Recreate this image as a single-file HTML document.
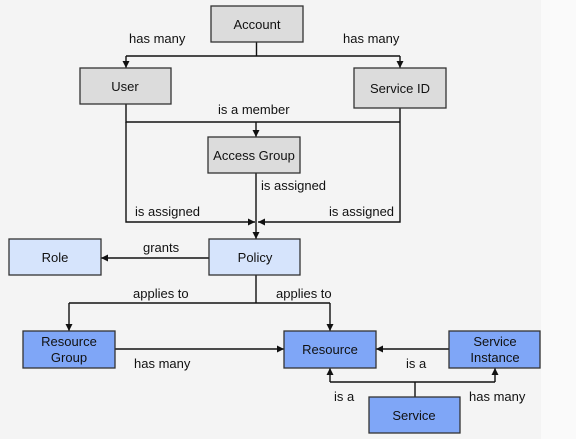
<!DOCTYPE html>
<html><head><style>
body{margin:0;width:576px;height:439px;background:#f4f4f4;overflow:hidden}
svg{display:block}
text{font-family:"Liberation Sans",Arial,sans-serif;font-size:13px;fill:#111}
.b{stroke:#333;stroke-width:1.3}
.l{stroke:#111;stroke-width:1.4;fill:none}
</style></head><body>
<svg width="576" height="439" viewBox="0 0 576 439">
<defs><marker id="a" markerWidth="8" markerHeight="8" refX="7" refY="4" orient="auto" markerUnits="userSpaceOnUse"><path d="M0,0.5 L7,4 L0,7.5z" fill="#111"/></marker></defs>
<rect x="541" y="0" width="35" height="439" fill="#fafafa"/>
<!-- lines -->
<path class="l" d="M256.5,42 V56 M126,56 H400"/>
<path class="l" d="M126,56 V68" marker-end="url(#a)"/>
<path class="l" d="M400,56 V68" marker-end="url(#a)"/>
<path class="l" d="M126,104 V122 H400 M400,108 V122"/>
<path class="l" d="M256,122 V137" marker-end="url(#a)"/>
<path class="l" d="M126,122 V222 H255" marker-end="url(#a)"/>
<path class="l" d="M400,122 V222 H258" marker-end="url(#a)"/>
<path class="l" d="M256,173 V239" marker-end="url(#a)"/>
<path class="l" d="M209,258 H101" marker-end="url(#a)"/>
<path class="l" d="M256,275 V303 M69,303 H330"/>
<path class="l" d="M69,303 V331" marker-end="url(#a)"/>
<path class="l" d="M330,303 V331" marker-end="url(#a)"/>
<path class="l" d="M115,349 H284" marker-end="url(#a)"/>
<path class="l" d="M449,349 H376" marker-end="url(#a)"/>
<path class="l" d="M415,397 V382 M330,382 H495"/>
<path class="l" d="M330,382 V368" marker-end="url(#a)"/>
<path class="l" d="M495,382 V368" marker-end="url(#a)"/>
<!-- boxes -->
<g class="b" fill="#dcdcdc">
<rect x="211" y="6" width="92" height="36"/>
<rect x="80" y="68" width="91" height="36"/>
<rect x="354" y="68" width="92" height="40"/>
<rect x="208" y="137" width="92" height="36"/>
</g>
<g class="b" fill="#d6e4fc">
<rect x="209" y="239" width="91" height="36"/>
<rect x="9" y="239" width="92" height="36"/>
</g>
<g class="b" fill="#7fa6f7">
<rect x="23" y="331" width="92" height="37"/>
<rect x="284" y="331" width="92" height="37"/>
<rect x="449" y="331" width="91" height="37"/>
<rect x="369" y="397" width="91" height="36"/>
</g>
<g text-anchor="middle">
<text x="257" y="29">Account</text>
<text x="125" y="91">User</text>
<text x="400" y="93">Service ID</text>
<text x="254" y="160">Access Group</text>
<text x="255" y="262">Policy</text>
<text x="55" y="262">Role</text>
<text x="69" y="346">Resource</text>
<text x="69" y="362">Group</text>
<text x="330" y="354">Resource</text>
<text x="495" y="346">Service</text>
<text x="495" y="362">Instance</text>
<text x="414" y="420">Service</text>
</g>
<text x="129" y="43">has many</text>
<text x="343" y="43">has many</text>
<text x="218" y="114">is a member</text>
<text x="261" y="190">is assigned</text>
<text x="135" y="216">is assigned</text>
<text x="329" y="216">is assigned</text>
<text x="143" y="252">grants</text>
<text x="133" y="298">applies to</text>
<text x="276" y="298">applies to</text>
<text x="134" y="368">has many</text>
<text x="406" y="368">is a</text>
<text x="334" y="401">is a</text>
<text x="469" y="401">has many</text>
</svg>
</body></html>
